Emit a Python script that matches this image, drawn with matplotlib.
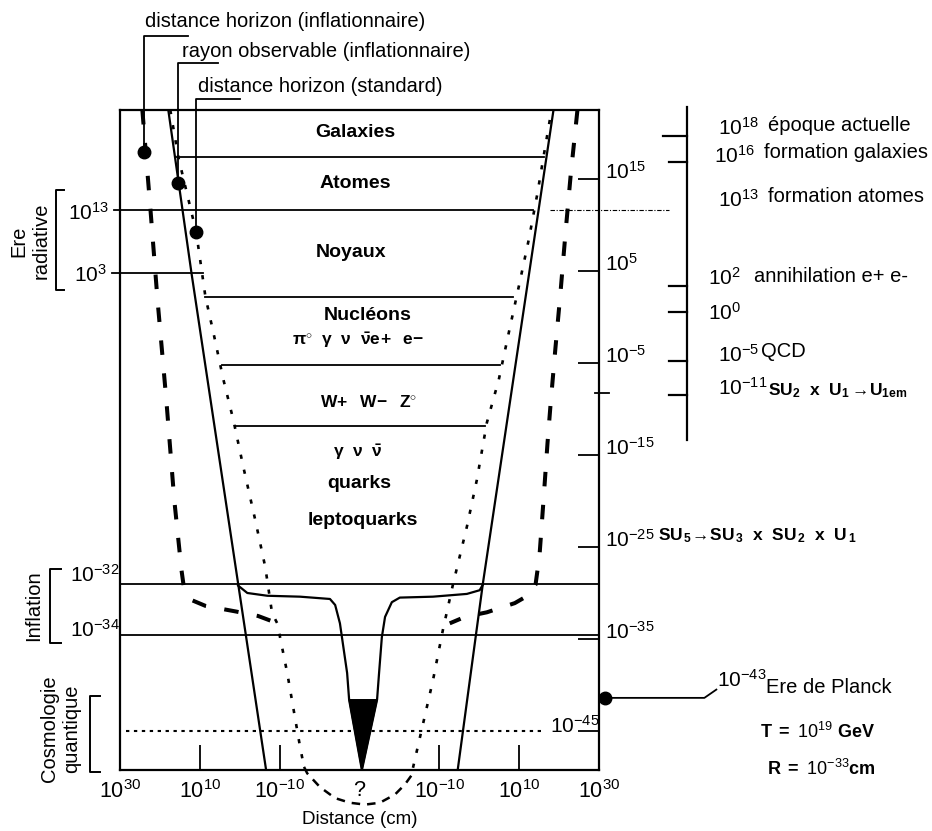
import matplotlib.pyplot as plt

plt.rcParams['font.family'] = ['Liberation Sans', 'DejaVu Sans']
plt.rcParams['mathtext.fontset'] = 'custom'
plt.rcParams['mathtext.rm'] = 'Liberation Sans'
plt.rcParams['mathtext.it'] = 'Liberation Sans:italic'
plt.rcParams['mathtext.bf'] = 'Liberation Sans:bold'

W, H = 932, 831

# x : décades de distance repliées autour du centre (-60 = 10^30 à gauche, 0 = "?", +60 = 10^30 à droite)
# y : log10 du temps (s)
x_ticks = [-60, -40, -20, 0, 20, 40, 60]
x_labels = [r'$10^{30}$', r'$10^{10}$', r'$10^{-10}$', '?', r'$10^{-10}$', r'$10^{10}$', r'$10^{30}$']
t_ticks = [15, 5, -5, -15, -25, -35, -45]
t_labels = [r'$10^{15}$', r'$10^{5}$', r'$10^{-5}$', r'$10^{-15}$', r'$10^{-25}$', r'$10^{-35}$', '']

# lignes de séparation des époques : (log t, x debut, x fin)
era_lines = [
    (17.4, -45.9, 46.1),
    (11.6, -61.6, 43.4),
    (4.8, -62.1, -39.1),
    (2.2, -38.6, 38.4),
    (-5.2, -34.4, 35.1),
    (-11.85, -31.1, 31.4),
    (-29.0, -60, 60),
    (-34.6, -60, 60),
]

# distance horizon (inflationnaire) - tirets gras
infl_hor_left_x = [-54.4, -52.4, -50.6, -48.4, -46.4, -44.6, -43.9, -41.9, -38.6, -31.1, -25.4, -21.1]
infl_hor_left_t = [22.5, 11.85, 1.85, -9.0, -19.9, -27.5, -29.7, -30.8, -31.4, -32.0, -32.5, -33.2]
infl_hor_right_x = [54.6, 52.9, 51.6, 50.4, 49.1, 47.9, 47.1, 46.1, 45.1, 44.1, 42.1, 38.9, 31.9, 26.4, 22.6]
infl_hor_right_t = [22.5, 15.4, 9.1, 2.9, -3.3, -9.3, -13.7, -19.9, -25.9, -29.1, -30.3, -31.1, -32.1, -32.6, -33.3]

# distance horizon (standard) - pointillés
std_hor_left_x = [-47.4, -45.4, -40.9, -38.6, -36.6, -34.1, -31.6, -29.1, -26.1, -23.6, -21.9, -20.6, -18.1, -14.9, -13.9]
std_hor_left_t = [22.5, 17.4, 9.2, 2.2, -1.7, -6.8, -11.2, -16.3, -22.1, -27.2, -32.2, -33.3, -38.7, -46.7, -48.9]
std_hor_right_x = [13.4, 18.4, 20.9, 23.4, 26.9, 29.4, 31.9, 34.9, 37.4, 39.9, 42.4, 44.6, 46.1, 48.1]
std_hor_right_t = [-49.0, -39.5, -34.0, -29.1, -22.8, -17.7, -11.5, -6.8, -1.7, 3.3, 8.4, 13.5, 17.4, 22.5]
# raccord sous l'axe
arc_x = [-13.9, -13.1, -9.9, -6.1, -2.4, 1.4, 5.1, 8.9, 11.4, 13.4]
arc_t = [-48.9, -49.6, -51.1, -52.3, -52.8, -53.0, -52.8, -51.9, -50.8, -49.6]

# rayon observable (inflationnaire) - traits pleins
obs_left_x = [-47.9, -42.1, -30.4, -23.4]
obs_left_t = [22.5, 4.8, -29.0, -49.24]
obs_right_x = [48.6, 30.9, 24.6]
obs_right_t = [22.5, -29.0, -49.24]
obs_inner_x = [-30.4, -28.1, -23.1, -14.9, -7.4, -6.1, -4.9, -4.4, -3.1, -2.6, 0.6,
               4.4, 4.9, 5.6, 6.4, 8.1, 10.1, 18.4, 26.9, 30.1, 30.9]
obs_inner_t = [-29.2, -30.0, -30.3, -30.4, -30.65, -31.3, -33.3, -34.8, -38.7, -41.6, -49.24,
               -41.6, -38.7, -34.8, -32.6, -31.0, -30.5, -30.4, -30.1, -29.7, -29.1]
cone_x = [-2.6, 4.4, 0.6]
cone_t = [-41.6, -41.6, -49.24]

# points repères et leurs renvois
marker_x = [-53.9, -45.4, -40.9]
marker_t = [17.9, 14.6, 9.2]
leader_top_t = [30.5, 27.6, 23.7]
leader_end_x = [-42.9, -35.4, -29.9]
leader_names = ['distance horizon (inflationnaire)', 'rayon observable (inflationnaire)',
                'distance horizon (standard)']

# échelle des événements (à droite)
event_t = [19.7, 16.8, 3.4, 0.5, -4.8, -8.5]
event_x0 = [76.1, 77.6, 77.6, 77.6, 77.6, 77.6]
event_axis_x = 82.1

planck_x = [61.4, 86.4, 89.4]
planck_t = [-41.4, -41.4, -40.5]

fig = plt.figure(figsize=(W / 100, H / 100), dpi=100)
ax = fig.add_axes([120 / W, 1 - 770 / H, 479 / W, 660 / H])
ax.set_xlim(-60, 60)
ax.set_ylim(-49.24, 22.5)
for sp in ax.spines.values():
    sp.set_linewidth(1.6)

ax.set_xticks(x_ticks)
ax.set_xticklabels(x_labels, fontsize=15.5)
ax.tick_params(axis='x', direction='in', length=18, width=1.3, pad=7)
for i in (0, 3, 6):
    ax.xaxis.get_major_ticks()[i].tick1line.set_visible(False)

ax.yaxis.tick_right()
ax.set_yticks(t_ticks)
ax.set_yticklabels(t_labels, fontsize=15)
ax.tick_params(axis='y', direction='in', length=15, width=1.3, pad=4)
for lab in ax.get_yticklabels():
    lab.set_va('baseline')

k = dict(color='black', clip_on=False)
for t, a, b in era_lines:
    ax.plot([a, b], [t, t], lw=1.3, **k)
ax.plot([47.6, 77.6], [11.6, 11.6], lw=0.8, ls=(0, (4, 1.5, 1, 1.5)), **k)
ax.plot([-58.6, 45.9], [-45, -45], lw=1.5, dashes=(1.6, 2.2), color='black')
ax.plot([59.1, 62.4], [-8.3, -8.3], lw=1.3, **k)

bold = dict(lw=2.9, dashes=(3.6, 4.6), color='black')
ax.plot(infl_hor_left_x, infl_hor_left_t, **bold)
ax.plot(infl_hor_right_x, infl_hor_right_t, **bold)

dots = dict(lw=1.9, dashes=(1.6, 4.2), color='black')
ax.plot(std_hor_left_x, std_hor_left_t, **dots)
ax.plot(std_hor_right_x, std_hor_right_t, **dots)
ax.plot(arc_x, arc_t, lw=1.8, dashes=(3.4, 2.8), **k)

ax.plot(obs_left_x, obs_left_t, lw=1.6, color='black')
ax.plot(obs_right_x, obs_right_t, lw=1.6, color='black')
ax.plot(obs_inner_x, obs_inner_t, lw=1.6, color='black')
ax.fill(cone_x, cone_t, color='black')

for xm, tm, tt, xe in zip(marker_x, marker_t, leader_top_t, leader_end_x):
    ax.plot([xm, xm, xe], [tm, tt, tt], lw=1.3, **k)
ax.plot(marker_x, marker_t, 'o', ms=9, color='black', clip_on=False)

# échelle des événements
ax.plot([event_axis_x, event_axis_x], [22.8, -13.4], lw=1.6, **k)
for t, x0 in zip(event_t, event_x0):
    ax.plot([x0, event_axis_x], [t, t], lw=1.6, **k)

ax.plot(planck_x, planck_t, lw=1.3, **k)
ax.plot(planck_x[0], planck_t[0], 'o', ms=9, color='black', clip_on=False)

# crochets à gauche
for xa, xb, ta, tb in [(-76.1, -74.1, 13.8, 2.9), (-77.6, -74.9, -27.4, -35.4), (-67.4, -64.9, -41.2, -49.5)]:
    ax.plot([xb, xa, xa, xb], [ta, ta, tb, tb], lw=1.4, **k)


def ftext(x, y, s, **kw):
    fig.text(x / W, 1 - y / H, s, **kw)


fs = 14.5
tops = [(145, 27), (182, 57), (198, 92)]
for (x, y), s in zip(tops, leader_names):
    ftext(x, y, s, fontsize=fs, va='baseline')

regions = [
    ('Galaxies', 355, 137, 14), ('Atomes', 355, 188, 14), ('Noyaux', 351, 257, 14),
    ('Nucléons', 368, 320, 14),
    (r'$\mathbf{\pi^{\circ}}\ \ \mathbf{\gamma}\ \ \mathbf{\nu}\ \ \mathbf{\bar{\nu}e\!+}\ \ \mathbf{e\!-}$', 358, 345, 12.5),
    (r'$\mathbf{W\!+}\ \ \mathbf{W\!-}\ \ \mathbf{Z^{\circ}}$', 369, 407, 12.5),
    (r'$\mathbf{\gamma}\ \ \mathbf{\nu}\ \ \mathbf{\bar{\nu}}$', 358, 457, 12.5),
    ('quarks', 359, 488, 14), ('leptoquarks', 363, 525, 14),
]
for s, x, y, f in regions:
    ftext(x, y, s, fontsize=f, fontweight='bold', ha='center', va='baseline')

for s, x, y in [(r'$10^{13}$', 68, 220), (r'$10^{3}$', 74, 282), (r'$10^{-32}$', 70, 582), (r'$10^{-34}$', 70, 637)]:
    ftext(x, y, s, fontsize=15, va='baseline')

ftext(30, 241, 'Ere\nradiative', fontsize=fs, rotation=90, ha='center', va='center', multialignment='center')
ftext(34, 606, 'Inflation', fontsize=fs, rotation=90, ha='center', va='center')
ftext(61, 729, 'Cosmologie\nquantique', fontsize=fs, rotation=90, ha='center', va='center', multialignment='center')

event_nums = [(r'$10^{18}$', 718, 135), (r'$10^{16}$', 714, 163), (r'$10^{13}$', 718, 207),
              (r'$10^{2}$', 708, 285), (r'$10^{0}$', 708, 320), (r'$10^{-5}$', 718, 362), (r'$10^{-11}$', 718, 395)]
for s, x, y in event_nums:
    ftext(x, y, s, fontsize=15, va='baseline')
for s, x, y in [('époque actuelle', 768, 131), ('formation galaxies', 764, 158),
                ('formation atomes', 768, 202), ('annihilation e+ e-', 754, 282), ('QCD', 761, 357)]:
    ftext(x, y, s, fontsize=fs, va='baseline')
ftext(768, 395, r'$\mathbf{SU_2}\ \ \mathbf{x}\ \ \mathbf{U_1}\rightarrow\!\mathbf{U_{1em}}$', fontsize=12.5, va='baseline')

# transition GUT, à droite du label de graduation 10^-25
ftext(658, 540, r'$\mathbf{SU_{\,5}}\!\rightarrow\!\mathbf{SU_{\,3}\ \ x\ \ SU_{\,2}\ \ x\ \ U_{\,1}}$', fontsize=12.5, va='baseline')
ftext(550, 733, r'$10^{-45}$', fontsize=15, va='baseline')

ftext(717, 687, r'$10^{-43}$', fontsize=15, va='baseline')
ftext(766, 693, 'Ere de Planck', fontsize=fs, va='baseline')
ftext(760, 738, r'$\mathbf{T}\ \mathbf{=}\ 10^{19}\ \mathbf{GeV}$', fontsize=13, va='baseline')
ftext(767, 775, r'$\mathbf{R}\ \mathbf{=}\ 10^{-33}\mathbf{cm}$', fontsize=13, va='baseline')

ftext(360, 820, 'Distance (cm)', fontsize=13.5, ha='center', va='center')

fig.savefig('out.png', dpi=100)
